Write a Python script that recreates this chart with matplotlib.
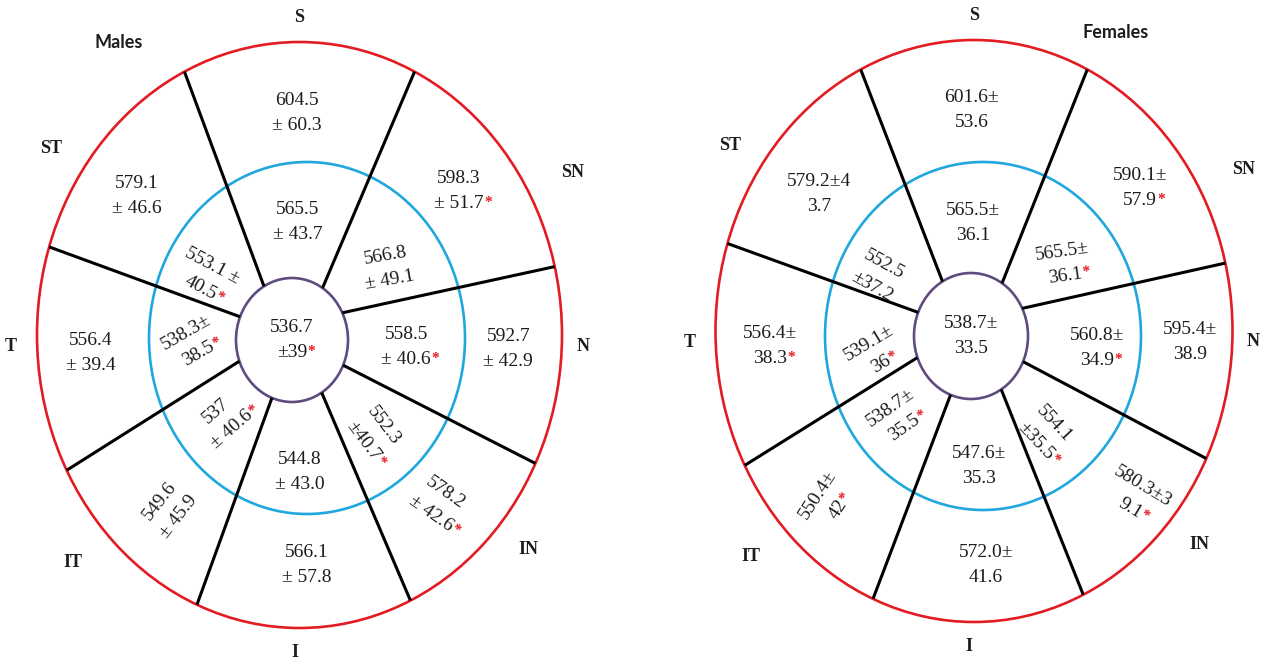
import numpy as np
import matplotlib
matplotlib.use("Agg")
import matplotlib.pyplot as plt
from matplotlib.patches import Ellipse

# sector order used everywhere below
sectors = ["S", "SN", "N", "IN", "I", "IT", "T", "ST"]

# ---- values (text as printed, line break where the figure breaks it) ----
males_outer = ["604.5\n± 60.3", "598.3\n± 51.7", "592.7\n± 42.9", "578.2\n± 42.6",
               "566.1\n± 57.8", "549.6\n± 45.9", "556.4\n± 39.4", "579.1\n± 46.6"]
males_outer_sig = [0, 1, 0, 1, 0, 0, 0, 0]
males_middle = ["565.5\n± 43.7", "566.8\n± 49.1", "558.5\n± 40.6", "552.3\n±40.7",
                "544.8\n± 43.0", "537\n± 40.6", "538.3±\n38.5", "553.1 ±\n40.5"]
males_middle_sig = [0, 0, 1, 1, 0, 1, 1, 1]
males_center = "536.7\n±39"
males_center_sig = 1

females_outer = ["601.6±\n53.6", "590.1±\n57.9", "595.4±\n38.9", "580.3±3\n9.1",
                 "572.0±\n41.6", "550.4±\n42", "556.4±\n38.3", "579.2±4\n3.7"]
females_outer_sig = [0, 1, 0, 1, 0, 1, 1, 0]
females_middle = ["565.5±\n36.1", "565.5±\n36.1", "560.8±\n34.9", "554.1\n±35.5",
                  "547.6±\n35.3", "538.7±\n35.5", "539.1±\n36", "552.5\n±37.2"]
females_middle_sig = [0, 1, 1, 1, 0, 1, 1, 0]
females_center = "538.7±\n33.5"
females_center_sig = 0

# ---- layout (pixel space, y down) ----
outer_line_ang = [116, 64, 13.5, -26, -65, -113, -152.5, 162.5]
inner_line_ang = [120, 57, 26, -24, -58, -111, -160, 158]
label_ang = [90, 28, -2, -40, -91, -138, 182, 146]
label_rad = [1.085, 1.18, 1.08, 1.14, 1.085, 1.16, 1.10, 1.14]

panels = [
    dict(title="Males", title_xy=(119, 43),
         red=(299.5, 335, 262.5, 293), blue=(307, 338, 158, 176), purple=(292, 340, 56, 62),
         outer=males_outer, outer_sig=males_outer_sig,
         middle=males_middle, middle_sig=males_middle_sig,
         center=males_center, center_sig=males_center_sig,
         outer_ang=[92, 40, -3, -48, -89, -131, 184, 143],
         outer_rad=[0.98, 0.99, 1.0, 0.98, 1.0, 1.0, 1.04, 1.02],
         outer_rot=[0, 0, 0, -35, 0, 52, 0, 0],
         middle_ang=[91, 36, -4, -49, -90, -136, 182, 149],
         middle_rad=[0.98, 1.02, 1.0, 1.05, 1.12, 0.98, 1.0, 1.01],
         middle_rot=[0, 10, 0, -53, 0, 41, 30, -28]),
    dict(title="Females", title_xy=(1116, 32),
         red=(974, 331, 258.5, 291), blue=(983, 336, 158, 174), purple=(971, 336, 57, 63),
         outer=females_outer, outer_sig=females_outer_sig,
         middle=females_middle, middle_sig=females_middle_sig,
         center=females_center, center_sig=females_center_sig,
         outer_ang=[92, 39, -2, -43, -88, -135, 183, 142],
         outer_rad=[0.99, 1.02, 1.04, 1.06, 1.02, 1.05, 1.03, 1.0],
         outer_rot=[0, 0, 0, -31, 0, 57, 0, 0],
         middle_ang=[92, 37, -5, -52, -89, -137, 189, 151],
         middle_rad=[0.95, 1.01, 1.12, 1.03, 1.1, 1.01, 0.96, 1.05],
         middle_rot=[0, 8, 0, -47, 0, 35, 31, -29]),
]

RED = "#e31b23"
BLUE = "#1fa7de"
PURPLE = "#5f4b80"
TXT = "#1c1c1c"
SERIF = "Liberation Serif"
FS = 14

fig = plt.figure(figsize=(12.64, 6.61), dpi=100)
ax = fig.add_axes([0, 0, 1, 1])
ax.set_xlim(0, 1264)
ax.set_ylim(661, 0)
ax.axis("off")
renderer = fig.canvas.get_renderer()


def ell_pt(e, t, r=1.0):
    cx, cy, a, b = e
    t = np.radians(t)
    return np.array([cx + r * a * np.cos(t), cy - r * b * np.sin(t)])


def blend(e1, e2, f):
    return tuple(np.array(e1) + f * (np.array(e2) - np.array(e1)))


def block(pos, text, rot, sig):
    lines = text.split("\n")
    th = np.radians(rot)
    up = np.array([-np.sin(th), -np.cos(th)])
    along = np.array([np.cos(th), -np.sin(th)])
    gap = 12.5
    last = None
    for k, s in enumerate(lines):
        p = np.array(pos) + up * (len(lines) - 1 - 2 * k) * gap
        ax.text(p[0], p[1], s, rotation=rot, rotation_mode="anchor", ha="center",
                va="center", fontsize=FS, family=SERIF, color=TXT)
        last = p
    if sig:
        tmp = ax.text(0, 0, lines[-1], fontsize=FS, family=SERIF)
        w = tmp.get_window_extent(renderer).width
        tmp.remove()
        q = last + along * (w / 2 + 4) + up * 1
        ax.text(q[0], q[1], "*", rotation=rot, rotation_mode="anchor", ha="center",
                va="center", fontsize=11, family=SERIF, color=RED, fontweight="bold")


for pn in panels:
    for e, col in [(pn["red"], RED), (pn["blue"], BLUE), (pn["purple"], PURPLE)]:
        ax.add_patch(Ellipse(e[:2], 2 * e[2], 2 * e[3], fill=False, ec=col, lw=1.9, zorder=2))

    for to, ti in zip(outer_line_ang, inner_line_ang):
        p0 = ell_pt(pn["purple"], ti)
        p1 = ell_pt(pn["red"], to)
        ax.plot([p0[0], p1[0]], [p0[1], p1[1]], color="black", lw=2.2,
                solid_capstyle="butt", zorder=3)

    outer_ring = blend(pn["blue"], pn["red"], 0.45)
    mid_ring = blend(pn["purple"], pn["blue"], 0.5)

    for i in range(len(sectors)):
        block(ell_pt(outer_ring, pn["outer_ang"][i], pn["outer_rad"][i]),
              pn["outer"][i], pn["outer_rot"][i], pn["outer_sig"][i])
        block(ell_pt(mid_ring, pn["middle_ang"][i], pn["middle_rad"][i]),
              pn["middle"][i], pn["middle_rot"][i], pn["middle_sig"][i])
        lp = ell_pt(pn["red"], label_ang[i], label_rad[i])
        ax.text(lp[0], lp[1], sectors[i], ha="center", va="center", fontsize=13,
                family=SERIF, fontweight="bold", color=TXT)

    block(pn["purple"][:2], pn["center"], 0, pn["center_sig"])
    ax.text(*pn["title_xy"], pn["title"], ha="center", va="center", fontsize=13,
            family="Lato", fontweight="bold", color=TXT)

fig.savefig("out.png", dpi=100)
